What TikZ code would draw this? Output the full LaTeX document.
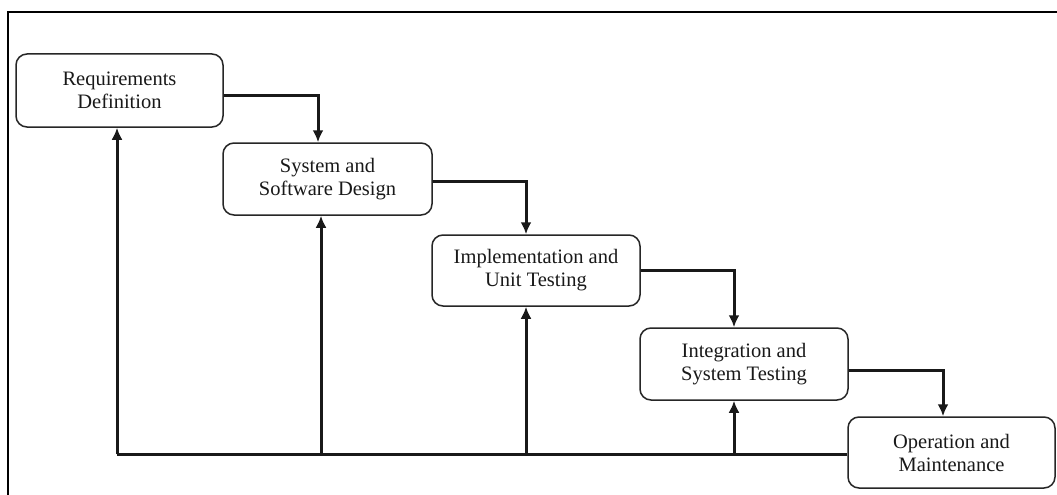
\documentclass[tikz,border=0pt]{standalone}
\usepackage{fontspec}
\setmainfont{Liberation Serif}
\usetikzlibrary{arrows.meta,calc}
\begin{document}
\begin{tikzpicture}[x=1pt,y=-1pt,
  phase/.style={draw=black!85,line width=1.5pt,rounded corners=11pt,fill=white,
    align=center,inner sep=0pt,text=black!90,
    font=\fontsize{20.5}{23}\selectfont},
  flow/.style={line width=3pt,draw=black!90,-{Latex[length=12pt,width=11pt]}},
  fb/.style={line width=3pt,draw=black!90}]
\useasboundingbox (0,0) rectangle (1057,495);
\fill[white] (0,0) rectangle (1057,495);
\draw[line width=2.2pt] (8,495) -- (8,12) -- (1057,12);
\node[phase,minimum width=207pt,minimum height=73pt] (b1) at (119.5,90.5) {Requirements\\Definition};
\node[phase,minimum width=209pt,minimum height=72pt] (b2) at (327.5,179) {System and\\Software Design};
\node[phase,minimum width=208pt,minimum height=71pt] (b3) at (536,270.5) {Implementation and\\Unit Testing};
\node[phase,minimum width=208pt,minimum height=72pt] (b4) at (744,364) {Integration and\\System Testing};
\node[phase,minimum width=207pt,minimum height=71pt] (b5) at (951.5,452.5) {Operation and\\Maintenance};
% forward flow
\draw[flow] ([yshift=-5pt]b1.east) -| ([xshift=-9.5pt]b2.north);
\draw[flow] ([yshift=-2pt]b2.east) -| ([xshift=-10pt]b3.north);
\draw[flow] (b3.east) -| ([xshift=-10pt]b4.north);
\draw[flow] ([yshift=-6pt]b4.east) -| ([xshift=-8.5pt]b5.north);
% feedback
\coordinate (fbend) at ([yshift=-1.5pt]b5.west);
\draw[fb] (fbend) -- ([xshift=-2.5pt]b1.south |- fbend);
\draw[flow] ([xshift=-2.5pt]b1.south |- fbend) -- ([xshift=-2.5pt]b1.south);
\draw[flow] ([xshift=-6.5pt]b2.south |- fbend) -- ([xshift=-6.5pt]b2.south);
\draw[flow] ([xshift=-10pt]b3.south |- fbend) -- ([xshift=-10pt]b3.south);
\draw[flow] ([xshift=-10pt]b4.south |- fbend) -- ([xshift=-10pt]b4.south);
\end{tikzpicture}
\end{document}
